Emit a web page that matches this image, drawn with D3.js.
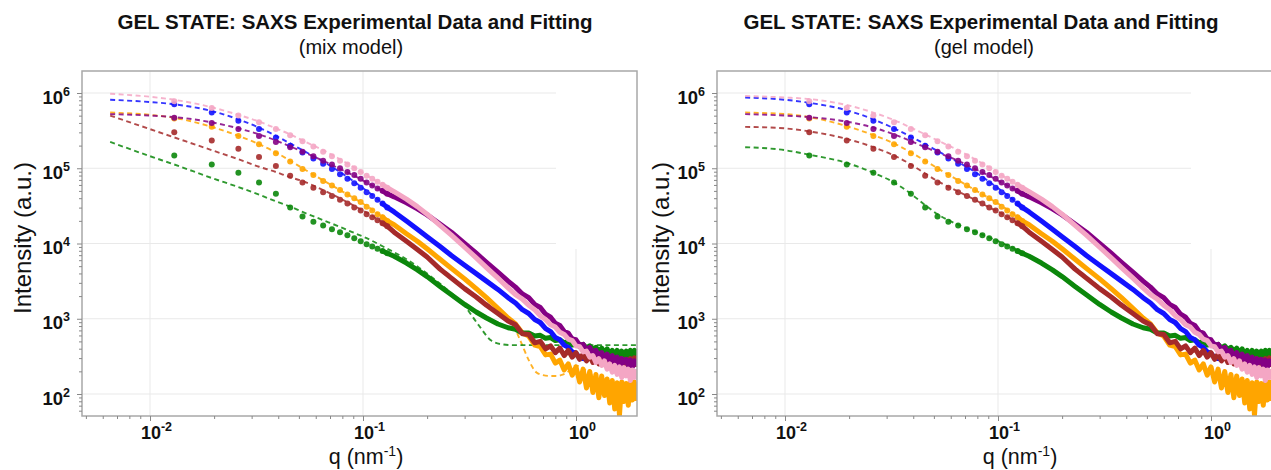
<!DOCTYPE html>
<html><head><meta charset="utf-8">
<script src="https://cdn.jsdelivr.net/npm/d3@7"></script>
<style>
body{margin:0;background:#fff;}
svg{display:block;font-family:"Liberation Sans",Arial,sans-serif;}
</style></head><body>
<svg id="chart" width="1271" height="470"></svg>
<script>
// ---------- data (intensities, stored as log10(I)) ----------
const qMarkers = [0.013,0.0195,0.026,0.0325,0.039,0.0455,0.052,0.0585,0.065,0.0715,0.078,0.0845,0.091,0.0975,0.104,0.1105,0.117,0.1235,0.13];
const qBand = [0.14,0.16,0.18,0.2,0.23,0.26,0.3,0.34,0.38,0.43,0.48,
  0.52,0.56,0.60,0.64,0.68,0.72,0.76,0.80,0.84,0.88,0.92,0.96,1.00,1.04,1.08,1.12,1.16,1.20,1.24,1.28,1.32,1.36,1.40,1.44,1.48,1.52,1.56,1.60,1.64,1.68,1.72,1.76,1.80,1.84,1.88,1.92,1.96];

const pinkLogI = [5.89,5.80,5.70,5.61,5.52,5.44,5.36,5.29,5.22,5.16,5.10,5.05,5.00,4.95,4.90,4.86,4.82,4.78,4.74,
  4.69,4.59,4.49,4.39,4.24,4.11,3.95,3.81,3.68,3.54,3.41,
  3.32,3.26,3.18,3.12,3.04,2.99,2.92,2.89,2.82,2.79,2.73,2.71,2.64,2.63,2.56,2.57,2.49,2.51,2.42,2.47,2.38,2.44,2.33,2.40,2.29,2.38,2.26,2.36,2.22,2.35,2.24,2.33,2.18,2.32,2.22,2.30,2.20];
const purpleLogI = [5.67,5.60,5.52,5.43,5.35,5.28,5.22,5.16,5.10,5.05,5.00,4.95,4.91,4.86,4.81,4.77,4.73,4.70,4.66,
  4.62,4.54,4.46,4.38,4.26,4.15,4.00,3.87,3.75,3.62,3.50,
  3.42,3.33,3.28,3.19,3.15,3.06,3.02,2.94,2.91,2.83,2.81,2.73,2.72,2.65,2.66,2.59,2.62,2.55,2.58,2.50,2.55,2.47,2.53,2.44,2.51,2.40,2.49,2.30,2.47,2.42,2.46,2.38,2.45,2.36,2.44,2.40,2.43];
const blueLogI = [5.85,5.74,5.63,5.52,5.41,5.30,5.21,5.13,5.06,4.99,4.92,4.86,4.80,4.74,4.68,4.63,4.58,4.53,4.48,
  4.42,4.30,4.19,4.09,3.96,3.84,3.71,3.60,3.50,3.39,3.28,
  3.21,3.12,3.07,2.99,2.95,2.87,2.83,2.75,2.72,2.65,2.62,2.56,2.54,2.48,2.47];
const orangeLogI = [5.66,5.55,5.43,5.32,5.20,5.09,4.99,4.91,4.83,4.77,4.71,4.65,4.60,4.55,4.49,4.44,4.39,4.35,4.30,
  4.25,4.13,4.03,3.93,3.79,3.67,3.53,3.40,3.28,3.14,3.01,
  2.93,2.81,2.77,2.65,2.63,2.52,2.53,2.41,2.45,2.32,2.40,2.25,2.36,2.16,2.33,2.08,2.30,2.02,2.26,1.95,2.24,1.98,2.20,1.88,2.18,1.80,2.15,1.72,2.16,1.90,2.14,1.85,2.17,1.92,2.16,1.94,2.12];
const brownLogI = [5.48,5.37,5.26,5.15,5.03,4.90,4.81,4.74,4.68,4.63,4.58,4.53,4.48,4.44,4.39,4.35,4.31,4.27,4.23,
  4.15,4.03,3.92,3.82,3.66,3.54,3.40,3.29,3.18,3.07,2.97,
  2.92,2.80,2.79,2.68,2.70,2.60,2.64,2.55,2.61,2.51,2.58,2.49,2.55,2.46,2.53,2.44,2.51,2.42,2.50,2.40,2.49,2.39,2.48,2.38,2.47,2.37,2.46,2.37,2.47,2.36,2.46,2.37,2.47,2.38,2.48,2.39,2.49];
const greenLogI = [5.17,5.05,4.94,4.81,4.66,4.48,4.36,4.29,4.24,4.19,4.15,4.11,4.07,4.03,3.99,3.96,3.93,3.90,3.87,
  3.83,3.74,3.65,3.56,3.43,3.32,3.19,3.09,3.01,2.93,2.88,
  2.86,2.81,2.81,2.77,2.78,2.74,2.75,2.71,2.72,2.68,2.70,2.65,2.67,2.63,2.66,2.61,2.64,2.59,2.62,2.57,2.61,2.55,2.60,2.53,2.58,2.52,2.58,2.51,2.57,2.50,2.57,2.50,2.58,2.51,2.58,2.52,2.57];

// model fits (dashed), on a shared q grid
const fitQ = [0.0065,0.01,0.013,0.0195,0.026,0.0325,0.039,0.0455,0.052,0.065,0.078,0.091,0.104,0.13,
  0.16,0.2,0.25,0.3,0.35,0.4,0.45,0.5,0.55,0.6,0.65,0.7,0.75,0.8,0.85,0.9,0.95,1.0,1.1,1.2,1.4,1.6,1.8,1.95];

const mixPinkLogI = [5.99,5.95,5.91,5.81,5.71,5.62,5.53,5.45,5.37,5.24,5.12,5.01,4.91,4.74,
  4.59,4.39,4.17,3.96,3.79,3.64,3.51,3.38,3.28,3.18,3.09,3.01,2.94,2.87,2.81,2.76,2.70,2.65,2.56,2.49,2.39,2.33,2.29,2.27];
const mixBlueLogI = [5.91,5.88,5.85,5.76,5.65,5.54,5.43,5.33,5.24,5.09,4.95,4.82,4.70,4.49,
  4.30,4.09,3.88,3.71,3.58,3.46,3.35,3.24,3.14,3.05,2.97,2.89,2.82,2.75,2.69,2.63,2.58,2.53,2.45];
const mixPurpleLogI = [5.72,5.70,5.68,5.61,5.53,5.45,5.37,5.29,5.22,5.10,4.99,4.90,4.81,4.67,
  4.54,4.38,4.18,4.00,3.84,3.71,3.58,3.46,3.36,3.26,3.17,3.09,3.01,2.94,2.88,2.82,2.77,2.72,2.64,2.58,2.51,2.47,2.44,2.43];
const mixOrangeLogI = [5.74,5.71,5.67,5.55,5.43,5.32,5.21,5.10,5.00,4.84,4.71,4.60,4.50,4.31,
  4.13,3.93,3.71,3.53,3.37,3.23,3.09,2.95,2.70,2.45,2.29,2.25,2.24,2.24,2.25,2.28,2.33,2.38,2.32,2.24,2.12,2.05,2.02,2.01];
const mixBrownLogI = [5.70,5.52,5.41,5.24,5.12,5.02,4.95,4.88,4.83,4.71,4.60,4.50,4.41,4.24,
  4.03,3.82,3.60,3.42,3.28,3.16,3.05,2.95,2.85,2.77,2.70,2.65,2.61,2.58,2.56,2.54,2.53,2.52,2.49,2.47,2.44,2.42,2.42,2.42];
const mixGreenLogI = [5.35,5.16,5.05,4.87,4.75,4.65,4.56,4.49,4.42,4.31,4.22,4.14,4.07,3.93,
  3.79,3.60,3.38,3.17,2.91,2.71,2.66,2.65,2.65,2.65,2.65,2.65,2.65,2.65,2.65,2.65,2.65,2.65,2.65,2.65,2.65,2.65,2.65,2.65];

const gelPinkLogI = [5.96,5.94,5.92,5.84,5.74,5.64,5.54,5.45,5.37,5.24,5.12,5.01,4.91,4.74,
  4.59,4.39,4.17,3.96,3.79,3.64,3.51,3.38,3.28,3.18,3.09,3.01,2.94,2.87,2.81,2.76,2.70,2.65,2.56,2.49,2.39,2.33,2.29,2.27];
const gelBlueLogI = [5.94,5.91,5.87,5.77,5.65,5.53,5.42,5.32,5.23,5.08,4.95,4.82,4.70,4.49,
  4.30,4.09,3.88,3.71,3.58,3.46,3.35,3.24,3.14,3.05,2.97,2.89,2.82,2.75,2.69,2.63,2.58,2.53,2.45];
const gelPurpleLogI = [5.72,5.70,5.68,5.62,5.54,5.45,5.36,5.28,5.21,5.10,4.99,4.90,4.81,4.67,
  4.54,4.38,4.18,4.00,3.84,3.71,3.58,3.46,3.36,3.26,3.17,3.09,3.01,2.94,2.88,2.82,2.77,2.72,2.64,2.58,2.51,2.47,2.44,2.43];
const gelOrangeLogI = [5.74,5.72,5.68,5.56,5.44,5.33,5.21,5.10,5.00,4.84,4.71,4.60,4.50,4.31,
  4.13,3.93,3.71,3.53,3.37,3.23,3.09,2.96,2.85,2.75,2.66,2.58,2.51,2.45,2.40,2.36,2.33,2.30,2.24,2.19,2.10,2.04,2.02,2.01];
const gelBrownLogI = [5.55,5.53,5.49,5.39,5.28,5.17,5.05,4.93,4.83,4.69,4.58,4.48,4.40,4.23,
  4.03,3.82,3.60,3.42,3.28,3.16,3.05,2.95,2.85,2.77,2.70,2.65,2.61,2.58,2.56,2.54,2.53,2.52,2.49,2.47,2.44,2.42,2.42,2.42];
const gelGreenLogI = [5.28,5.24,5.18,5.07,4.94,4.81,4.66,4.51,4.39,4.25,4.16,4.08,4.01,3.88,
  3.75,3.57,3.37,3.19,3.07,2.98,2.92,2.87,2.83,2.80,2.78,2.76,2.74,2.72,2.71,2.69,2.68,2.66,2.64,2.62,2.58,2.55,2.54,2.54];

const xTickValues = [0.01, 0.1, 1];
const xTickLabels = [["10","-2"],["10","-1"],["10","0"]];
const yTickValues = [1e2, 1e3, 1e4, 1e5, 1e6];
const yTickLabels = [["10","2"],["10","3"],["10","4"],["10","5"],["10","6"]];
const xMinorTicks = [0.005,0.006,0.007,0.008,0.009,0.02,0.03,0.04,0.05,0.06,0.07,0.08,0.09,0.2,0.3,0.4,0.5,0.6,0.7,0.8,0.9];
const yMinorTicks = [60,70,80,90,200,300,400,500,600,700,800,900,2e3,3e3,4e3,5e3,6e3,7e3,8e3,9e3,2e4,3e4,4e4,5e4,6e4,7e4,8e4,9e4,2e5,3e5,4e5,5e5,6e5,7e5,8e5,9e5,2e6];

const panelTitle = "GEL STATE: SAXS Experimental Data and Fitting";
const panelSubtitles = ["(mix model)", "(gel model)"];

// ---------- styling ----------
const seriesOrder = ["orange","green","blue","brown","purple","pink"];
const colors = {orange:"#ffa500", green:"#0b870b", blue:"#1212ff", brown:"#a52a2a", purple:"#840084", pink:"#f4a6c4"};
const expLog = {pink:pinkLogI, purple:purpleLogI, blue:blueLogI, orange:orangeLogI, brown:brownLogI, green:greenLogI};
const qAll = qMarkers.concat(qBand);

const panels = [
  {dx:0, sub:panelSubtitles[0], titleX:355, subX:351, xTitleX:366, yTitleX:22,
   fits:{pink:mixPinkLogI, purple:mixPurpleLogI, blue:mixBlueLogI, orange:mixOrangeLogI, brown:mixBrownLogI, green:mixGreenLogI}},
  {dx:635, sub:panelSubtitles[1], titleX:346, subX:349, xTitleX:385, yTitleX:25,
   fits:{pink:gelPinkLogI, purple:gelPurpleLogI, blue:gelBlueLogI, orange:gelOrangeLogI, brown:gelBrownLogI, green:gelGreenLogI}}
];

const frame = {l:82, r:637, t:71, b:416};
const x = d3.scaleLog().domain([0.01, 1]).range([150, 576]);
const y = d3.scaleLog().domain([1e2, 1e6]).range([394, 93]);

const svg = d3.select("#chart");
const toPts = (qs, logs) => logs.map((v, i) => ({q: qs[i], I: Math.pow(10, v)}));

panels.forEach((p, pi) => {
  const g = svg.append("g").attr("transform", `translate(${p.dx},0)`);
  const clipId = "plotclip" + pi;
  g.append("clipPath").attr("id", clipId).append("rect")
    .attr("x", frame.l).attr("y", frame.t).attr("width", frame.r - frame.l).attr("height", frame.b - frame.t);

  // grid
  const grid = g.append("g").attr("stroke", "#e9e9e9").attr("stroke-width", 1);
  grid.selectAll("line.h").data(yTickValues).join("line")
    .attr("x1", frame.l).attr("x2", d => d >= 1e4 ? 556 : frame.r)
    .attr("y1", d => y(d)).attr("y2", d => y(d));
  grid.selectAll("line.v").data(xTickValues).join("line")
    .attr("x1", d => x(d)).attr("x2", d => x(d))
    .attr("y1", d => d >= 1 ? 249 : frame.t).attr("y2", frame.b);

  const plot = g.append("g").attr("clip-path", `url(#${clipId})`);

  // fits (dashed)
  const fitLine = d3.line().x(d => x(d.q)).y(d => y(d.I)).curve(d3.curveMonotoneX);
  seriesOrder.forEach(s => {
    plot.append("path").datum(toPts(fitQ, p.fits[s]))
      .attr("d", fitLine).attr("fill", "none")
      .attr("stroke", colors[s]).attr("stroke-width", 1.9)
      .attr("stroke-dasharray", "5,3.5").attr("opacity", 0.85);
  });

  // experimental data
  const bandLine = d3.line().x(d => x(d.q)).y(d => y(d.I));
  seriesOrder.forEach(s => {
    const pts = toPts(qAll, expLog[s]);
    plot.append("path").datum(pts.slice(17))
      .attr("d", bandLine).attr("fill", "none")
      .attr("stroke", colors[s]).attr("stroke-width", 5)
      .attr("stroke-linejoin", "round").attr("stroke-linecap", "round");
    plot.append("g").selectAll("circle").data(pts.slice(0, qMarkers.length)).join("circle")
      .attr("cx", d => x(d.q)).attr("cy", d => y(d.I)).attr("r", 3)
      .attr("fill", colors[s]).attr("opacity", 0.9);
  });

  // frame
  g.append("rect").attr("x", frame.l).attr("y", frame.t)
    .attr("width", frame.r - frame.l).attr("height", frame.b - frame.t)
    .attr("fill", "none").attr("stroke", "#a8a8a8").attr("stroke-width", 1.5);

  // minor ticks
  const xMin = d3.axisBottom(x).tickValues(xMinorTicks).tickSize(3).tickFormat("");
  const xm = g.append("g").attr("transform", `translate(0,${frame.b})`).call(xMin);
  xm.select(".domain").remove();
  xm.selectAll("line").attr("stroke", "#888");
  const yMin = d3.axisLeft(y).tickValues(yMinorTicks.filter(v => y(v) > frame.t && y(v) < frame.b)).tickSize(3).tickFormat("");
  const ym = g.append("g").attr("transform", `translate(${frame.l},0)`).call(yMin);
  ym.select(".domain").remove();
  ym.selectAll("line").attr("stroke", "#888");

  // major axes with superscript labels
  const xAx = g.append("g").attr("transform", `translate(0,${frame.b})`)
    .call(d3.axisBottom(x).tickValues(xTickValues).tickSize(5).tickFormat(() => ""));
  xAx.select(".domain").remove();
  xAx.selectAll("line").attr("stroke", "#888");
  xAx.selectAll(".tick text").each(function(d, i) {
    const t = d3.select(this).attr("y", 23).attr("dy", null).attr("x", 6)
      .attr("fill", "#111").attr("font-size", 18).attr("font-weight", "bold")
      .attr("font-family", "'Liberation Sans', Arial, sans-serif");
    t.append("tspan").text(xTickLabels[i][0]);
    t.append("tspan").attr("dy", -8).attr("font-size", 12.5).text(xTickLabels[i][1]);
  });

  const yAx = g.append("g").attr("transform", `translate(${frame.l},0)`)
    .call(d3.axisLeft(y).tickValues(yTickValues).tickSize(5).tickPadding(7).tickFormat(() => ""));
  yAx.select(".domain").remove();
  yAx.selectAll("line").attr("stroke", "#888");
  yAx.selectAll(".tick text").each(function(d, i) {
    const t = d3.select(this).attr("dy", null).attr("y", 10)
      .attr("fill", "#111").attr("font-size", 18.5).attr("font-weight", "bold")
      .attr("font-family", "'Liberation Sans', Arial, sans-serif");
    t.append("tspan").text(yTickLabels[i][0]);
    t.append("tspan").attr("dy", -8).attr("font-size", 12.5).text(yTickLabels[i][1]);
  });

  // titles
  g.append("text").attr("x", p.titleX).attr("y", 29).attr("text-anchor", "middle")
    .attr("font-size", 20.5).attr("font-weight", "bold").attr("fill", "#111").text(panelTitle);
  g.append("text").attr("x", p.subX).attr("y", 54).attr("text-anchor", "middle")
    .attr("font-size", 20).attr("fill", "#111").text(p.sub);

  const xt = g.append("text").attr("x", p.xTitleX).attr("y", 464).attr("text-anchor", "middle")
    .attr("font-size", 21.5).attr("fill", "#111");
  xt.append("tspan").text("q (nm");
  xt.append("tspan").attr("dy", -8).attr("font-size", 14).text("-1");
  xt.append("tspan").attr("dy", 8).text(")");

  g.append("text").attr("transform", `translate(${p.yTitleX + 9},238) rotate(-90)`)
    .attr("text-anchor", "middle").attr("font-size", 24).attr("fill", "#111").text("Intensity (a.u.)");
});
</script>
</body></html>
